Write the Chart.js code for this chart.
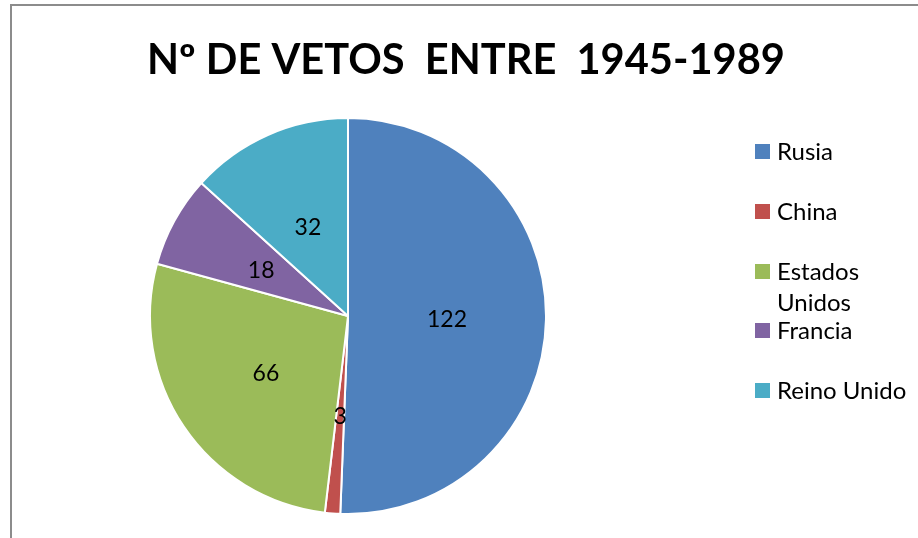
<!DOCTYPE html>
<html>
<head>
<meta charset="utf-8">
<script src="https://cdn.jsdelivr.net/npm/chart.js@4/dist/chart.umd.min.js"></script>
<style>
  html, body { margin: 0; padding: 0; background: #fff; }
  #wrap { position: relative; width: 918px; height: 538px; overflow: hidden; }
  #frame { position: absolute; left: 10px; top: 4px; width: 940px; height: 600px;
           border: 2px solid #8c8c8c; box-sizing: border-box; }
  canvas { position: absolute; left: 0; top: 0; }
</style>
</head>
<body>
<div id="wrap">
  <div id="frame"></div>
  <canvas id="chart" width="918" height="538"></canvas>
</div>
<script>
const titleText = 'Nº DE VETOS  ENTRE  1945-1989';
const paises = ['Rusia', 'China', 'Estados Unidos', 'Francia', 'Reino Unido'];
const vetos = [122, 3, 66, 18, 32];
const colores = ['#4F81BD', '#C0504D', '#9BBB59', '#8064A2', '#4BACC6'];
// legend lines (Estados Unidos wraps like in the original)
const legendLines = [['Rusia'], ['China'], ['Estados', 'Unidos'], ['Francia'], ['Reino Unido']];

const FONT = 'Lato, "Open Sans", sans-serif';

const extras = {
  id: 'extras',
  afterDraw(chart) {
    const ctx = chart.ctx;
    ctx.save();

    // title, scaled to the original width
    ctx.fillStyle = '#000';
    ctx.font = 'bold 100px ' + FONT;
    const w100 = ctx.measureText(titleText).width;
    const size = Math.min(48, 100 * 638 / w100);
    ctx.font = 'bold ' + size + 'px ' + FONT;
    ctx.textAlign = 'left';
    ctx.textBaseline = 'alphabetic';
    ctx.fillText(titleText, 147, 74);

    // values inside the slices
    ctx.font = '23px ' + FONT;
    ctx.textAlign = 'center';
    ctx.textBaseline = 'middle';
    chart.getDatasetMeta(0).data.forEach((arc, i) => {
      const p = arc.tooltipPosition();
      ctx.fillText(String(vetos[i]), p.x, p.y + 2);
    });

    // legend
    ctx.font = '24px ' + FONT;
    ctx.textAlign = 'left';
    const rowY = [151, 211, 271, 330, 390];
    legendLines.forEach((lines, i) => {
      ctx.fillStyle = colores[i];
      ctx.fillRect(755, rowY[i] - 7, 15, 15);
      ctx.fillStyle = '#000';
      lines.forEach((t, k) => ctx.fillText(t, 777, rowY[i] + 1 + k * 31));
    });
    ctx.restore();
  }
};

new Chart(document.getElementById('chart'), {
  type: 'pie',
  data: {
    labels: paises,
    datasets: [{
      data: vetos,
      backgroundColor: colores,
      borderColor: '#ffffff',
      borderWidth: 2
    }]
  },
  options: {
    responsive: false,
    animation: false,
    layout: { padding: { left: 149, right: 371, top: 117, bottom: 23 } },
    plugins: {
      legend: { display: false },
      title: { display: false },
      tooltip: { enabled: false }
    }
  },
  plugins: [extras]
});
</script>
</body>
</html>
